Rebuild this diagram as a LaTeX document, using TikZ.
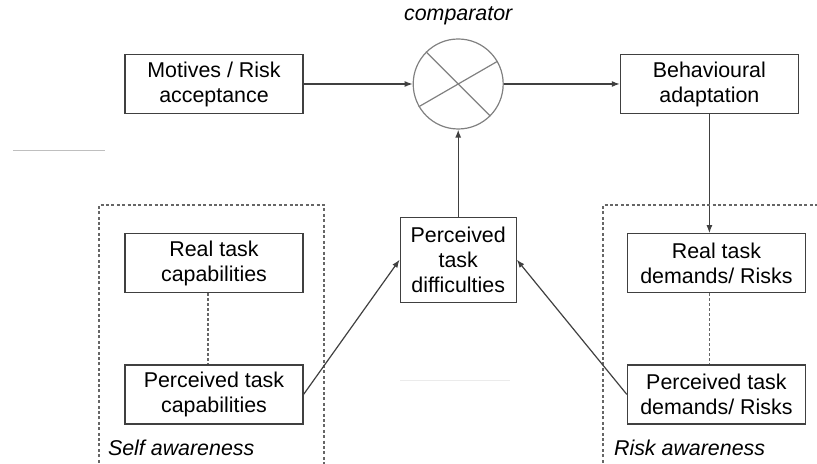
\documentclass[tikz,border=0pt]{standalone}
\usepackage{fontspec}
\setmainfont{Liberation Sans}
\usetikzlibrary{arrows.meta, shapes, positioning, calc}

\begin{document}
\begin{tikzpicture}[
    % Styles
    font=\fontsize{10.7}{12.5}\selectfont,
    box/.style={rectangle, draw=black!75, line width=0.6pt, minimum width=89pt, minimum height=29.5pt, text centered, align=center, inner sep=2pt},
    arrow/.style={-{Latex[length=4pt, width=3pt]}, draw=black!75, line width=0.6pt},
    link/.style={draw=black!60, line width=0.6pt, dash pattern=on 1.5pt off 1pt},
    frame/.style={draw=black!60, line width=0.6pt, dash pattern=on 1.5pt off 1.2pt},
    tag/.style={font=\fontsize{10.7}{12.5}\selectfont\itshape, anchor=west}
]
\useasboundingbox (-107pt,42pt) rectangle (301.5pt,-190pt);

% --- Top row ---
\node[box] (motives) at (0,0) {Motives / Risk\\acceptance};
\node[circle, draw=black!50, line width=0.6pt, minimum size=45pt, right = 54.5pt of motives] (comp) {};
\draw[draw=black!50, line width=0.6pt] (comp.135) -- (comp.-45) (comp.210) -- (comp.30); % the cross
\node[tag, anchor=south, above = 3pt of comp] (comp_label) {comparator};
\node[box, right = 58pt of comp] (behav) {Behavioural\\adaptation};

\draw[arrow] (motives) -- (comp);
\draw[arrow] (comp) -- (behav);

% --- Self awareness ---
\node[box, below = 59.5pt of motives] (real_cap) {Real task\\capabilities};
\node[box, below = 35.5pt of real_cap] (perc_cap) {Perceived task\\capabilities};
\draw[link] ([xshift=-3pt]real_cap.south) -- ([xshift=-3pt]perc_cap.north);
\draw[frame] (-57.5pt,-192pt) -- (-57.5pt,-60.5pt) -- (55pt,-60.5pt) -- (55pt,-192pt);
\node[tag] (self_tag) at (-56.5pt,-182pt) {Self awareness};

% --- Middle ---
\node[box, minimum width=58pt, minimum height=42.5pt, below = 43.5pt of comp] (difficulty) {Perceived\\task\\difficulties};
\draw[arrow] (difficulty) -- (comp);

% --- Risk awareness ---
\node[box, below = 59.5pt of behav, xshift=3.5pt] (real_dem) {Real task\\demands/ Risks};
\node[box, below = 35.5pt of real_dem] (perc_dem) {Perceived task\\demands/ Risks};
\draw[arrow] (behav.south) -- (behav.south |- real_dem.north);
\draw[link] (behav.south |- real_dem.south) -- (behav.south |- perc_dem.north);
\draw[frame] (194.5pt,-192pt) -- (194.5pt,-60.5pt) -- (310pt,-60.5pt);
\node[tag] (risk_tag) at (196.5pt,-182pt) {Risk awareness};

\draw[arrow] (perc_cap.east) -- (difficulty.west);
\draw[arrow] (perc_dem.west) -- (difficulty.east);

% faint stray rules
\draw[black!25, line width=0.5pt] (-100.5pt,-33.5pt) -- (-54.5pt,-33.5pt);
\draw[black!8, line width=0.5pt] (93pt,-148pt) -- (148pt,-148pt);

\end{tikzpicture}
\end{document}
